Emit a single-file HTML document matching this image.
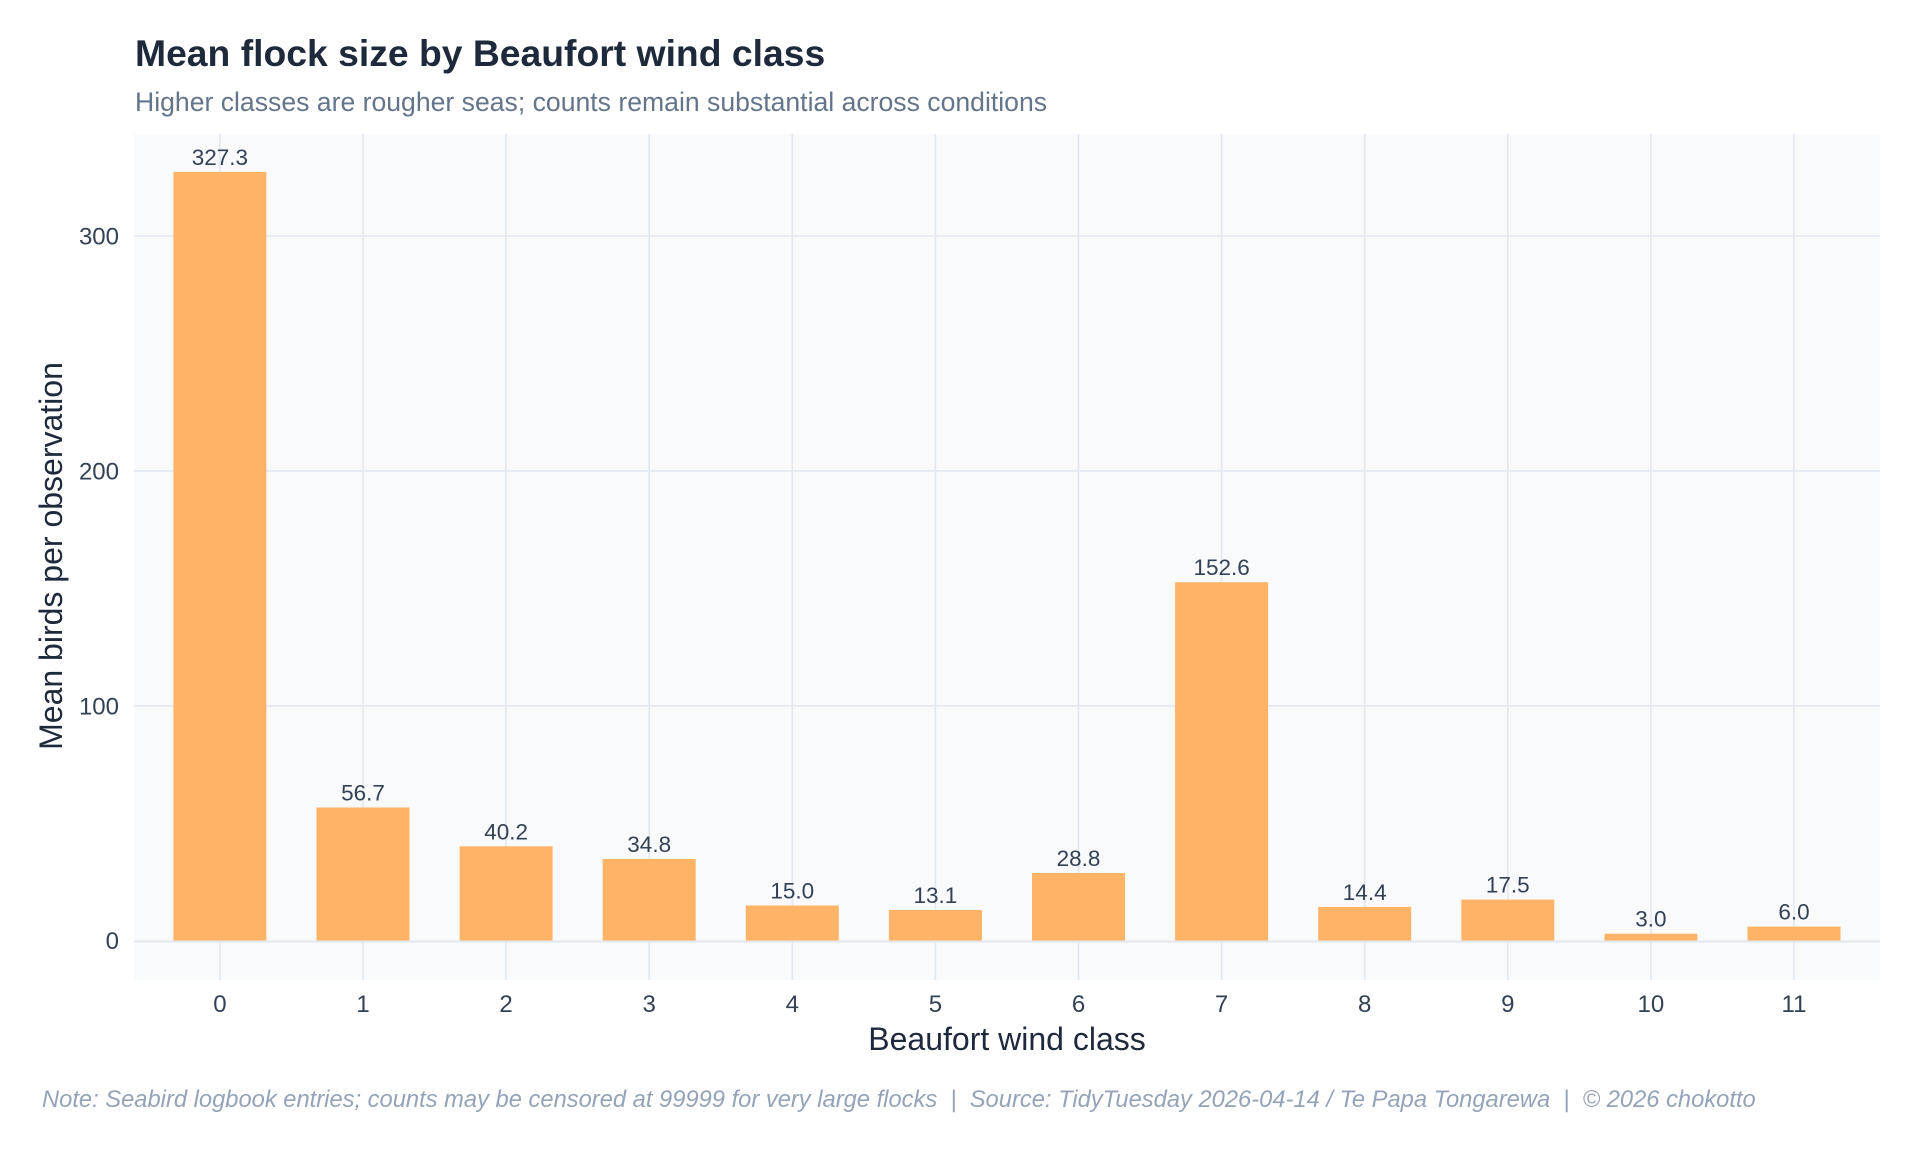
<!DOCTYPE html>
<html>
<head>
<meta charset="utf-8">
<style>
html,body{margin:0;padding:0;background:#ffffff;}
svg{display:block;}
text{font-family:"Liberation Sans",Arial,sans-serif;}
</style>
</head>
<body>
<svg width="1920" height="1152" viewBox="0 0 1920 1152" xmlns="http://www.w3.org/2000/svg">
  <rect x="0" y="0" width="1920" height="1152" fill="#ffffff"/>
  <!-- Title & subtitle -->
  <text x="135" y="66" font-size="37.3" font-weight="bold" fill="#1e293b">Mean flock size by Beaufort wind class</text>
  <text x="135" y="111" font-size="26.6" fill="#64748b">Higher classes are rougher seas; counts remain substantial across conditions</text>

  <!-- Plot background -->
  <rect x="134" y="134" width="1746" height="846" fill="#f8fafc"/>

  <!-- Horizontal gridlines -->
  <g stroke="#e2e8f0" stroke-width="1.6">
    <line x1="134" x2="1880" y1="705.8" y2="705.8"/>
    <line x1="134" x2="1880" y1="470.9" y2="470.9"/>
    <line x1="134" x2="1880" y1="236" y2="236"/>
  </g>
  <!-- Vertical gridlines -->
  <g stroke="#e2e8f0" stroke-width="1.6">
    <line x1="219.9" x2="219.9" y1="134" y2="980"/>
    <line x1="363.0" x2="363.0" y1="134" y2="980"/>
    <line x1="506.1" x2="506.1" y1="134" y2="980"/>
    <line x1="649.2" x2="649.2" y1="134" y2="980"/>
    <line x1="792.3" x2="792.3" y1="134" y2="980"/>
    <line x1="935.4" x2="935.4" y1="134" y2="980"/>
    <line x1="1078.5" x2="1078.5" y1="134" y2="980"/>
    <line x1="1221.6" x2="1221.6" y1="134" y2="980"/>
    <line x1="1364.7" x2="1364.7" y1="134" y2="980"/>
    <line x1="1507.8" x2="1507.8" y1="134" y2="980"/>
    <line x1="1650.9" x2="1650.9" y1="134" y2="980"/>
    <line x1="1794.0" x2="1794.0" y1="134" y2="980"/>
  </g>

  <!-- Bars -->
  <g fill="#feb366">
    <rect x="173.4" y="171.9" width="93" height="768.8"/>
    <rect x="316.5" y="807.5" width="93" height="133.2"/>
    <rect x="459.6" y="846.3" width="93" height="94.4"/>
    <rect x="602.7" y="859.0" width="93" height="81.7"/>
    <rect x="745.8" y="905.5" width="93" height="35.2"/>
    <rect x="888.9" y="909.9" width="93" height="30.8"/>
    <rect x="1032.0" y="873.0" width="93" height="67.7"/>
    <rect x="1175.1" y="582.2" width="93" height="358.5"/>
    <rect x="1318.2" y="906.9" width="93" height="33.8"/>
    <rect x="1461.3" y="899.6" width="93" height="41.1"/>
    <rect x="1604.4" y="933.7" width="93" height="7.0"/>
    <rect x="1747.5" y="926.6" width="93" height="14.1"/>
  </g>

  <!-- Zero line -->
  <line x1="134" x2="1880" y1="941.5" y2="941.5" stroke="#e2e8f0" stroke-width="2"/>

  <!-- Bar value labels -->
  <g font-size="22.5" fill="#334155" text-anchor="middle">
    <text x="219.9" y="164.9">327.3</text>
    <text x="363.0" y="800.5">56.7</text>
    <text x="506.1" y="839.3">40.2</text>
    <text x="649.2" y="852.0">34.8</text>
    <text x="792.3" y="898.5">15.0</text>
    <text x="935.4" y="902.9">13.1</text>
    <text x="1078.5" y="866.0">28.8</text>
    <text x="1221.6" y="575.2">152.6</text>
    <text x="1364.7" y="899.9">14.4</text>
    <text x="1507.8" y="892.6">17.5</text>
    <text x="1650.9" y="926.7">3.0</text>
    <text x="1794.0" y="919.6">6.0</text>
  </g>

  <!-- Y tick labels -->
  <g font-size="24" fill="#334155" text-anchor="end">
    <text x="119" y="949.2">0</text>
    <text x="119" y="714.3">100</text>
    <text x="119" y="479.4">200</text>
    <text x="119" y="244.5">300</text>
  </g>

  <!-- X tick labels -->
  <g font-size="24" fill="#334155" text-anchor="middle">
    <text x="219.9" y="1012">0</text>
    <text x="363.0" y="1012">1</text>
    <text x="506.1" y="1012">2</text>
    <text x="649.2" y="1012">3</text>
    <text x="792.3" y="1012">4</text>
    <text x="935.4" y="1012">5</text>
    <text x="1078.5" y="1012">6</text>
    <text x="1221.6" y="1012">7</text>
    <text x="1364.7" y="1012">8</text>
    <text x="1507.8" y="1012">9</text>
    <text x="1650.9" y="1012">10</text>
    <text x="1794.0" y="1012">11</text>
  </g>

  <!-- Axis titles -->
  <text x="1007" y="1050" font-size="32" fill="#1e293b" text-anchor="middle">Beaufort wind class</text>
  <text transform="translate(62,556) rotate(-90)" font-size="32" fill="#1e293b" text-anchor="middle">Mean birds per observation</text>

  <!-- Footer -->
  <text x="42" y="1107" font-size="23.72" font-style="italic" fill="#94a3b8" xml:space="preserve">Note: Seabird logbook entries; counts may be censored at 99999 for very large flocks  |  Source: TidyTuesday 2026-04-14 / Te Papa Tongarewa  |  © 2026 chokotto</text>
</svg>
</body>
</html>
